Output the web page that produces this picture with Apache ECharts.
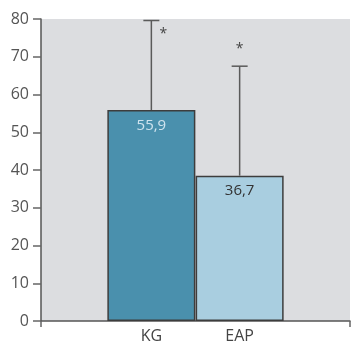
<!DOCTYPE html>
<html><head><meta charset="utf-8">
<script src="https://cdn.jsdelivr.net/npm/echarts@6/dist/echarts.min.js"></script>
<style>html,body{margin:0;padding:0;background:#fff}#c{width:351px;height:346px}</style>
</head><body><div id="c"></div>
<script>
const categories = ['KG', 'EAP'];
const barValues = [55.9, 38.5];
const barLabels = ['55,9', '36,7'];
const errorTops = [79.6, 67.5];
const significance = ['*', '*'];
const yTicks = [0, 10, 20, 30, 40, 50, 60, 70, 80];

const barColors = ['#4a90ad', '#a9cee0'];
const labelColors = ['#cfe3ee', '#333333'];

// category slots: padding around the two bars so they sit where the reference puts them
const slots = ['', '', categories[0], '', categories[1], '', ''];
const slotIndex = [2, 4];
const barData = slots.map(() => null);
const errData = [];
categories.forEach((c, i) => {
  barData[slotIndex[i]] = {
    value: barValues[i],
    itemStyle: { color: barColors[i] },
    label: { formatter: barLabels[i], color: labelColors[i] }
  };
  errData.push([slotIndex[i], barValues[i], errorTops[i], i]);
});

const chart = echarts.init(document.getElementById('c'));
const FONT = 'Open Sans';
chart.setOption({
  animation: false,
  backgroundColor: '#ffffff',
  grid: { left: 41, right: 1, top: 19, bottom: 25, show: true, backgroundColor: '#dcdde0', borderWidth: 0 },
  xAxis: {
    type: 'category',
    data: slots,
    axisLine: { lineStyle: { color: '#555', width: 1.5 } },
    axisTick: { show: true, length: 6, lineStyle: { color: '#666', width: 1.5 }, interval: (i) => i === 0 },
    axisLabel: { color: '#444', fontSize: 16, fontFamily: FONT, margin: 7, interval: 0 }
  },
  yAxis: {
    type: 'value',
    min: 0, max: 80, interval: 10,
    splitLine: { show: false },
    axisLine: { show: true, lineStyle: { color: '#555', width: 1.5 } },
    axisTick: { show: true, length: 8, lineStyle: { color: '#666', width: 1.5 } },
    axisLabel: { color: '#555', fontSize: 16, fontFamily: FONT, margin: 12,
      formatter: (v) => yTicks.includes(v) ? String(v) : '' }
  },
  series: [
    {
      type: 'bar',
      data: barData,
      barWidth: 88,
      itemStyle: { borderColor: '#3d3d3d', borderWidth: 1.5 },
      label: { show: true, position: 'insideTop', distance: 8, fontSize: 15, fontFamily: FONT },
      z: 2
    },
    {
      type: 'custom',
      data: errData,
      z: 3,
      renderItem: (params, api) => {
        const x = api.value(0);
        const base = api.coord([x, api.value(1)]);
        const top = api.coord([x, api.value(2)]);
        const idx = api.value(3);
        const cx = base[0];
        const cap = 8;
        const starPos = idx === 0 ? [cx + 12, top[1] + 14] : [cx, top[1] - 17];
        return {
          type: 'group',
          children: [
            { type: 'line', shape: { x1: cx, y1: base[1], x2: cx, y2: top[1] }, style: { stroke: '#5a5a5a', lineWidth: 1.5 } },
            { type: 'line', shape: { x1: cx - cap, y1: top[1], x2: cx + cap, y2: top[1] }, style: { stroke: '#5a5a5a', lineWidth: 1.5 } },
            { type: 'text', x: starPos[0], y: starPos[1], style: { text: significance[idx], fill: '#444', fontSize: 14, fontFamily: FONT, align: 'center', verticalAlign: 'middle' } }
          ]
        };
      }
    }
  ]
});
</script></body></html>
